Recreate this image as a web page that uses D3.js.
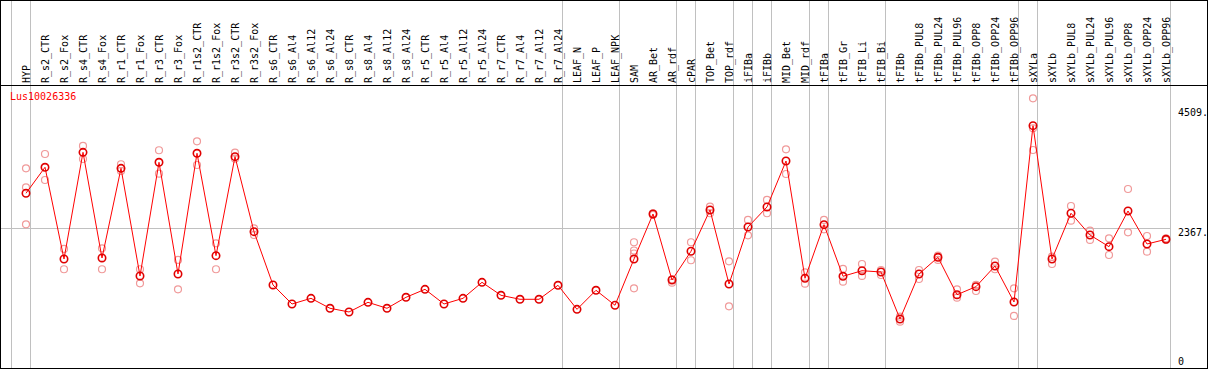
<!DOCTYPE html>
<html><head><meta charset="utf-8">
<script src="https://cdn.jsdelivr.net/npm/d3@7"></script>
<style>
html,body{margin:0;padding:0;background:#fff;}
text{font-family:"DejaVu Sans Mono",monospace;font-size:10px;}
</style></head>
<body><svg id="c" width="1209" height="370"></svg>
<script>
const categories = ["HYP","R_s2_CTR","R_s2_Fox","R_s4_CTR","R_s4_Fox","R_r1_CTR","R_r1_Fox","R_r3_CTR","R_r3_Fox","R_r1s2_CTR","R_r1s2_Fox","R_r3s2_CTR","R_r3s2_Fox","R_s6_CTR","R_s6_Al4","R_s6_Al12","R_s6_Al24","R_s8_CTR","R_s8_Al4","R_s8_Al12","R_s8_Al24","R_r5_CTR","R_r5_Al4","R_r5_Al12","R_r5_Al24","R_r7_CTR","R_r7_Al4","R_r7_Al12","R_r7_Al24","LEAF_N","LEAF_P","LEAF_NPK","SAM","AR_Bet","AR_rdf","cPAR","TOP_Bet","TOP_rdf","iFIBa","iFIBb","MID_Bet","MID_rdf","tFIBa","tFIB_Gr","tFIB_Li","tFIB_Bi","tFIBb","tFIBb_PUL8","tFIBb_PUL24","tFIBb_PUL96","tFIBb_OPP8","tFIBb_OPP24","tFIBb_OPP96","sXYLa","sXYLb","sXYLb_PUL8","sXYLb_PUL24","sXYLb_PUL96","sXYLb_OPP8","sXYLb_OPP24","sXYLb_OPP96"];

const means = [2937,3367,1849,3615,1866,3350,1568,3450,1601,3599,1904,3543,2301,1419,1104,1198,1033,972,1132,1033,1215,1347,1104,1198,1463,1248,1182,1182,1414,1016,1331,1083,1849,2594,1501,1977,2660,1435,2379,2710,3471,1530,2417,1563,1655,1634,856,1601,1877,1258,1391,1733,1137,4056,1849,2606,2246,2053,2644,2097,2175];

const replicates = [
 [3350,3036,2423],[3587,3157],[2015,1679],[3720,3504],[2026,1679],[3417,3306],[1679,1447],[3649,3261],[1833,1347],[3797,3405],[2109,1679],[3609,3509],[2357,2246],
 [],[],[],[],[],[],[],[],[],[],[],[],[],[],[],[],[],[],[],
 [2126,1990,1940,1364],[2606,2578],[1513,1457],[2126,1828],[2715,2606],[1811,1066],[2495,2241],[2826,2606],[3665,3256],[1629,1440],[2495,2340],[1684,1473],[1766,1568],[1667,1584],[894,811],[1667,1518],[1904,1833],[1347,1208],[1419,1319],[1804,1679],[1364,906],[4509,4013,3653],[1887,1766],[2726,2483],[2318,2164],[2192,1915],[3008,2291],[2230,1970],[2192,2164]
];

const groupStarts = ["HYP","R_s2_CTR","LEAF_N","SAM","cPAR","TOP_Bet","iFIBa","iFIBb","MID_Bet","tFIBa","tFIB_Gr","tFIBb","sXYLa","sXYLb"];
const yTicks = [0, 2367, 4509];
const yTickLabels = ["0", "2367.", "4509."];
const geneName = "Lus10026336";

const svg = d3.select("#c");
const W = 1209, H = 370;
const headerBottom = 85, plotRight = 1170, borderRight = 1207.5, borderBottom = 368.5;

const x = d3.scalePoint().domain(categories).range([26, 1166]);
const step = x.step();
const maxVal = d3.max(replicates.flat().concat(means));
const y = d3.scaleLinear().domain([0, maxVal]).range([370.7, 98.3]);

// vertical group separators
const sepX = groupStarts.map(c => x(c) - step + 4).concat([x(categories[categories.length-1]) + 4]);
svg.append("g").selectAll("line").data(sepX).join("line")
  .attr("x1", d => Math.round(d) + 0.5).attr("x2", d => Math.round(d) + 0.5)
  .attr("y1", 0).attr("y2", borderBottom)
  .attr("stroke", "#c0c0c0").attr("stroke-width", 1);

// horizontal grid line
svg.append("g").selectAll("line").data(yTicks.filter(v => v > 0 && v < maxVal)).join("line")
  .attr("x1", 0).attr("x2", plotRight)
  .attr("y1", d => Math.round(y(d)) + 0.5).attr("y2", d => Math.round(y(d)) + 0.5)
  .attr("stroke", "#c0c0c0").attr("stroke-width", 1);

// header line and border
svg.append("line").attr("x1", 0).attr("x2", borderRight).attr("y1", headerBottom + 0.5).attr("y2", headerBottom + 0.5)
  .attr("stroke", "#000").attr("stroke-width", 1);
svg.append("rect").attr("x", 0.5).attr("y", 0.5).attr("width", borderRight - 0.5).attr("height", borderBottom - 0.5)
  .attr("fill", "none").attr("stroke", "#000").attr("stroke-width", 1);

// category labels
svg.append("g").selectAll("text").data(categories).join("text")
  .attr("transform", d => `translate(${x(d) + 4},83) rotate(-90)`)
  .attr("text-anchor", "start")
  .attr("fill", "#000")
  .text(d => d);

// y tick labels
svg.append("g").selectAll("text").data(yTicks).join("text")
  .attr("x", 1178)
  .attr("y", d => Math.max(116, Math.min(365, y(d) + 8.5)))
  .attr("fill", "#000")
  .text((d, i) => yTickLabels[i]);

// gene name
svg.append("text").attr("x", 10).attr("y", 100).attr("fill", "#ff0000").text(geneName);

// replicate points
const repPts = [];
replicates.forEach((arr, i) => arr.forEach(v => repPts.push({c: categories[i], v})));
svg.append("g").selectAll("circle").data(repPts).join("circle")
  .attr("cx", d => x(d.c)).attr("cy", d => y(d.v)).attr("r", 3.5)
  .attr("fill", "none").attr("stroke", "#f09a9a").attr("stroke-width", 1.2);

// mean line
const line = d3.line().x((d, i) => x(categories[i])).y(d => y(d));
svg.append("path").datum(means).attr("d", line)
  .attr("fill", "none").attr("stroke", "#ff0000").attr("stroke-width", 1);

// mean points
svg.append("g").selectAll("circle").data(means).join("circle")
  .attr("cx", (d, i) => x(categories[i])).attr("cy", d => y(d)).attr("r", 3.7)
  .attr("fill", "none").attr("stroke", "#e00000").attr("stroke-width", 1.6);
</script></body></html>
